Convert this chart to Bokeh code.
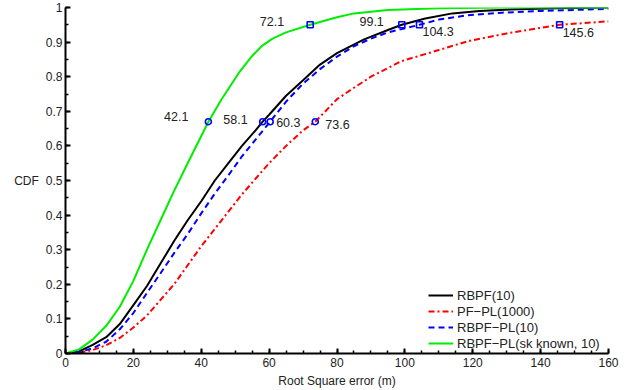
from bokeh.plotting import figure
from bokeh.models import FixedTicker, Range1d, ColumnDataSource
from bokeh.core.properties import value
from bokeh.embed import file_html
from bokeh.resources import INLINE
import numpy as np

# ---- data ----
black_x = [0, 4, 8, 12, 16, 20, 24, 28, 32, 36, 40, 44, 48, 52, 56, 58.1, 60, 65, 70, 75, 80, 88, 95, 99.1, 106, 114, 122, 131, 145, 160]
black_y = [0, 0.006, 0.025, 0.047, 0.085, 0.14, 0.195, 0.26, 0.325, 0.385, 0.44, 0.5, 0.55, 0.6, 0.645, 0.67, 0.69, 0.745, 0.79, 0.835, 0.868, 0.908, 0.935, 0.95, 0.968, 0.983, 0.99, 0.994, 0.998, 1.0]

red_x = [0, 4, 8, 12, 16, 20, 24, 28, 32, 36, 40, 44, 48, 52, 56, 60, 65, 70, 73.6, 80, 85, 90, 99, 110, 118.7, 130, 145.6, 160]
red_y = [0, 0.002, 0.01, 0.024, 0.045, 0.075, 0.11, 0.155, 0.2, 0.255, 0.31, 0.36, 0.41, 0.46, 0.505, 0.55, 0.6, 0.645, 0.67, 0.735, 0.768, 0.8, 0.845, 0.877, 0.903, 0.925, 0.95, 0.96]

blue_x = [0, 4, 8, 12, 16, 20, 24, 28, 32, 36, 40, 44, 48, 52, 56, 60.3, 65, 70, 75, 80, 85, 90, 95, 104.3, 110, 118, 128.6, 140, 160]
blue_y = [0, 0.004, 0.015, 0.034, 0.07, 0.117, 0.175, 0.232, 0.29, 0.345, 0.405, 0.462, 0.515, 0.57, 0.618, 0.67, 0.728, 0.78, 0.822, 0.858, 0.888, 0.91, 0.928, 0.95, 0.965, 0.977, 0.985, 0.99, 0.996]

green_x = [0, 4, 8, 12, 16, 20, 24, 28, 32, 36, 42.1, 46, 51, 55, 58, 61, 65, 72.1, 80, 85, 95, 110, 130, 160]
green_y = [0, 0.012, 0.04, 0.08, 0.135, 0.21, 0.3, 0.385, 0.47, 0.55, 0.67, 0.735, 0.81, 0.86, 0.89, 0.91, 0.928, 0.95, 0.972, 0.983, 0.993, 0.998, 1.0, 1.0]

circle_x = [42.1, 58.1, 60.3, 73.6]
circle_y = [0.67, 0.67, 0.67, 0.67]
square_x = [72.1, 99.1, 104.3, 145.6]
square_y = [0.95, 0.95, 0.95, 0.95]
circle_labels = ["42.1", "58.1", "60.3", "73.6"]
square_labels = ["72.1", "99.1", "104.3", "145.6"]

x_ticks = [0, 20, 40, 60, 80, 100, 120, 140, 160]
y_ticks = [0, 0.1, 0.2, 0.3, 0.4, 0.5, 0.6, 0.7, 0.8, 0.9, 1]
y_tick_labels = ["0", "0.1", "0.2", "0.3", "0.4", "0.5", "0.6", "0.7", "0.8", "0.9", "1"]

names = ["RBPF(10)", "PF\u2212PL(1000)", "RBPF\u2212PL(10)", "RBPF\u2212PL(sk known, 10)"]

# ---- styling ----
FONT = "Liberation Sans"
circle_align = ["right", "right", "left", "left"]
circle_dx = [-20, -15, 6, 10]
circle_dy = [-5, -2, 1, 3]
square_align = ["right", "right", "left", "left"]
square_dx = [-26, -18, 3, 3]
square_dy = [-3, -3, 7, 8]

p = figure(width=639, height=390, output_backend="svg", toolbar_location=None,
           x_range=Range1d(0, 160), y_range=Range1d(0, 1),
           min_border_left=65, min_border_right=31, min_border_top=7, min_border_bottom=37)
p.outline_line_color = None
p.grid.visible = False
p.background_fill_color = "white"

p.line(black_x, black_y, line_color="black", line_width=2, legend_label=names[0])
p.line(red_x, red_y, line_color="#ff0000", line_width=2, line_dash="6 3 2 3", legend_label=names[1])
p.line(blue_x, blue_y, line_color="#0000ff", line_width=2, line_dash="6 4", legend_label=names[2])
p.line(green_x, green_y, line_color="#00ee00", line_width=2, legend_label=names[3])

p.scatter(circle_x, circle_y, marker="circle", size=6, line_color="#0000ff", fill_color=None, line_width=1.6)
p.scatter(square_x, square_y, marker="square", size=6, line_color="#0000ff", fill_color=None, line_width=1.6)

cs = ColumnDataSource(dict(x=circle_x, y=circle_y, t=circle_labels, a=circle_align, dx=circle_dx, dy=circle_dy))
ss = ColumnDataSource(dict(x=square_x, y=square_y, t=square_labels, a=square_align, dx=square_dx, dy=square_dy))
for src in (cs, ss):
    p.text(x="x", y="y", text="t", source=src, text_align="a", text_baseline="middle",
           x_offset="dx", y_offset="dy", text_font=value(FONT), text_font_size="12.5px",
           text_color="#222222")

xa = p.xaxis[0]
ya = p.yaxis[0]
xa.ticker = FixedTicker(ticks=x_ticks, minor_ticks=list(np.arange(0, 161, 5)))
ya.ticker = FixedTicker(ticks=y_ticks, minor_ticks=list(np.round(np.arange(0, 1.001, 0.05), 2)))
ya.major_label_overrides = dict(zip(y_ticks, y_tick_labels))
for ax in (xa, ya):
    ax.axis_line_width = 2
    ax.major_tick_line_width = 2
    ax.minor_tick_line_width = 1.5
    ax.major_tick_in = 5
    ax.major_tick_out = 0
    ax.minor_tick_in = 3
    ax.minor_tick_out = 0
    ax.major_label_text_font = FONT
    ax.major_label_text_font_size = "12px"
    ax.major_label_text_color = "#222222"
    ax.axis_label_text_font = FONT
    ax.axis_label_text_font_size = "12px"
    ax.axis_label_text_font_style = "normal"
    ax.axis_label_text_color = "#222222"
xa.major_label_standoff = 4
xa.axis_label = "Root Square error (m)"
xa.axis_label_standoff = 4
ya.major_label_standoff = 3
ya.axis_label = "CDF"
ya.axis_label_orientation = "horizontal"
ya.axis_label_standoff = 4

lg = p.legend[0]
lg.location = (363, 2)
lg.border_line_alpha = 0
lg.background_fill_alpha = 0
lg.padding = 0
lg.margin = 0
lg.spacing = 0
lg.label_height = 16
lg.glyph_height = 16
lg.glyph_width = 25
lg.label_standoff = 4
lg.label_text_font = FONT
lg.label_text_font_size = "13px"
lg.label_text_color = "#222222"

open("out.html", "w").write(file_html(p, INLINE))
